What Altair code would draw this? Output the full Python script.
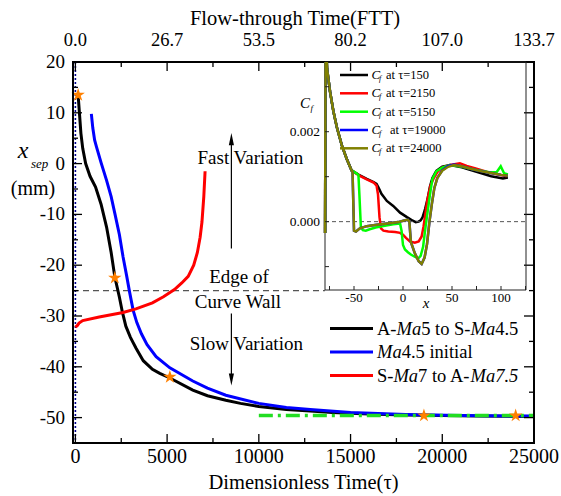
import altair as alt
import pandas as pd

FONT = "Liberation Serif"
W, H = 461, 381

# ---------------- main panel data ----------------
black_tau = [150, 220, 300, 400, 560, 800, 1100, 1400, 1700, 1950, 2150, 2400, 2560, 2750, 3000, 3300, 3700,
             4200, 4600, 5150, 6400, 7200, 8200, 9000, 10000, 11500, 12800, 14000, 16000, 18000, 20000, 22000, 25000]
black_y = [13.5, 10, 6, 3, 0, -2.5, -4.6, -8, -12.5, -17.5, -22.3, -26.3, -29.2, -32, -34.2, -36.3, -38.8,
           -40.5, -41.3, -42.2, -44.6, -45.7, -46.6, -47.2, -47.8, -48.4, -48.7, -49.0, -49.3, -49.5, -49.6, -49.7, -49.8]

blue_tau = [870, 950, 1050, 1150, 1400, 1700, 1950, 2150, 2400, 2600, 2800, 2950, 3150, 3350, 3600, 3900, 4400,
            5150, 6400, 7200, 8200, 10000, 11500, 12800, 15000, 18000, 21000, 25000]
blue_y = [9.8, 7.0, 4.6, 3.3, 0.2, -3.3, -6.5, -9.8, -14, -18.4, -22.2, -25.2, -28.9, -31.3, -33.5, -35.6, -38,
          -40.2, -42.8, -44.2, -45.6, -47.2, -48, -48.4, -49, -49.4, -49.6, -49.7]

red_tau = [0, 100, 200, 400, 1300, 2600, 3300, 4200, 4800, 5400, 5800, 6150, 6450, 6650, 6800, 6900, 7000, 7070]
red_y = [-32.2, -31.9, -31.4, -30.9, -30.2, -29.3, -28.6, -27.4, -26.2, -24.8, -23.5, -22.2, -20.0, -17.5,
         -14.5, -11.5, -6.5, -1.5]

green_tau = [10000, 25000]
green_y = [-49.6, -49.6]

star_tau = [150, 2150, 5150, 19000, 24000]
star_y = [13.5, -22.5, -42.0, -49.6, -49.6]

edge_y = [-25]

tau_major = [0, 5000, 10000, 15000, 20000, 25000]
tau_labels = ["0", "5000", "10000", "15000", "20000", "25000"]
tau_minor = [2500, 7500, 12500, 17500, 22500]
ftt_labels = ["0.0", "26.7", "53.5", "80.2", "107.0", "133.7"]
y_major = [20, 10, 0, -10, -20, -30, -40, -50]
y_labels = ["20", "10", "0", "-10", "-20", "-30", "-40", "-50"]
y_minor = [15, 5, -5, -15, -25, -35, -45]

ann_tau = [9540, 8918, 8864, 9321]
ann_y = [0.0, -23.6, -28.5, -36.75]
ann_text = ["Fast Variation", "Edge of", "Curve Wall", "Slow Variation"]
arrow_tau = [8504, 8504]
arrow_from = [-16.7, -29.5]
arrow_to = [4.8, -42.5]

# ---------------- inset data (Cf vs x) ----------------
lead_x = [-79.5, -79.0, -77.5, -74.5, -71.0, -67.5, -62.5, -57.5, -52.5]
lead_cf = [-0.00025, 0.0042, 0.0034, 0.0029, 0.00245, 0.0021, 0.0017, 0.0014, 0.00114]

cf150_x = lead_x + [-45, -37, -30, -27, -25, -22, -16.5, -10, -3, 4, 10, 13, 16, 18, 20, 22.5, 25, 27.5, 30, 34,
                    40, 48, 60, 75, 90, 102, 107]
cf150_y = lead_cf + [0.00104, 0.00095, 0.00088, 0.00084, 0.00076, 0.00062, 0.00046, 0.00035, 0.0002, 0.0001,
                     0.00002, -0.00001, 0.0, 0.00003, 0.0001, 0.00028, 0.0005, 0.00078, 0.00097, 0.00113,
                     0.00122, 0.00126, 0.00121, 0.00111, 0.00101, 0.00096, 0.00098]

cf2150_x = lead_x + [-45, -37, -30, -27, -25.5, -24, -22.5, -20, -15, -8, -3, 0, 3, 7, 12, 16, 19, 21, 23, 25,
                     28, 31, 35, 40, 48, 58, 65, 75, 90, 106]
cf2150_y = lead_cf + [0.00103, 0.00094, 0.00087, 0.0008, 0.0006, 0.0001, -0.00015, -0.0002, -0.00022, -0.00023,
                      -0.00025, -0.00029, -0.00036, -0.00044, -0.00047, -0.00044, -0.00033, -0.0001, 0.0002,
                      0.0005, 0.0008, 0.00095, 0.0011, 0.0012, 0.00126, 0.0013, 0.00124, 0.00118, 0.00108, 0.00101]

cf5150_x = lead_x + [-48, -45.5, -44.5, -43, -41, -38, -34, -28, -20, -10, -3, -1.5, 0, 2, 5, 8, 12, 15.5, 18,
                     20.5, 22.5, 25, 27.5, 30, 34, 40, 48, 60, 75, 88, 95.5, 99.7, 103, 107]
cf5150_y = lead_cf + [0.00108, 0.00104, 0.0006, -0.00012, -0.00019, -0.0002, -0.00017, -0.00013, -0.0001,
                      -0.00006, -0.00004, -0.0002, -0.00052, -0.00062, -0.00068, -0.00073, -0.00078, -0.00082,
                      -0.00076, -0.00056, -0.0002, 0.0002, 0.0006, 0.00095, 0.00112, 0.0012, 0.00126, 0.00122,
                      0.00115, 0.0011, 0.0011, 0.00123, 0.00108, 0.00105]

cf19000_x = lead_x + [-51.5, -50, -48, -44, -37, -27, -16, -5, 2, 5, 6.5, 8, 12, 16, 19, 22, 24.5, 27, 29.5, 32,
                      35, 40, 46, 52, 60, 70, 80, 90, 100, 107]
cf19000_y = lead_cf + [0.0011, -0.0002, -0.00022, -0.00015, -0.0001, -0.00007, -0.00004, -0.00001, 0.00003,
                       0.00004, 0.0, -0.00045, -0.0007, -0.00088, -0.00094, -0.0008, -0.0005, 0.0, 0.0004,
                       0.00075, 0.00097, 0.00114, 0.00124, 0.00127, 0.00123, 0.00117, 0.00112, 0.00108, 0.00104,
                       0.00102]

cf24000_x = lead_x + [-51.5, -50, -48, -44, -37, -27, -16, -5, 2, 5, 6.5, 8, 12, 16, 19, 22, 24.5, 27, 29.5, 32,
                      35, 40, 46, 52, 60, 70, 80, 90, 100, 107]
cf24000_y = lead_cf + [0.0011, -0.0002, -0.00022, -0.00015, -0.0001, -0.00007, -0.00004, -0.00001, 0.00003,
                       0.00004, 0.0, -0.00045, -0.0007, -0.00088, -0.00094, -0.0008, -0.0005, 0.0, 0.0004,
                       0.00075, 0.00097, 0.00113, 0.00122, 0.00126, 0.00123, 0.00117, 0.00112, 0.00108, 0.00104,
                       0.00102]

inset_x_domain = [-79.6, 125.5]
inset_y_domain = [-0.00152, 0.00355]
inset_x_ticks = [-75, -50, -25, 0, 25, 50, 75, 100, 125]
inset_x_labels = [-50, 0, 50, 100]
inset_x_label_text = ["-50", "0", "50", "100"]
inset_y_ticks = [-0.001, 0.0, 0.001, 0.002, 0.003]
inset_y_labels = [0.0, 0.002]
inset_y_label_text = ["0.000", "0.002"]

# ---------------- scales ----------------
xs = alt.Scale(domain=[-130, 25000], nice=False, zero=False)
ys = alt.Scale(domain=[-55, 20], nice=False, zero=False)
ixs = alt.Scale(domain=inset_x_domain, range=[252, 453], nice=False, zero=False)
iys = alt.Scale(domain=inset_y_domain, range=[228, 0], nice=False, zero=False)


def mx():
    return alt.X("tau:Q", scale=xs, axis=None)


def my():
    return alt.Y("y:Q", scale=ys, axis=None)


def ix():
    return alt.X("x:Q", scale=ixs, axis=None)


def iy():
    return alt.Y("cf:Q", scale=iys, axis=None)


def curve(t, y):
    return pd.DataFrame({"tau": t, "y": y})


black = alt.Chart(curve(black_tau, black_y)).mark_line(color="black", strokeWidth=3).encode(x=mx(), y=my())
blue = alt.Chart(curve(blue_tau, blue_y)).mark_line(color="#0000FF", strokeWidth=3).encode(x=mx(), y=my())
red = alt.Chart(curve(red_tau, red_y)).mark_line(color="#FF0000", strokeWidth=3).encode(x=mx(), y=my())
green = alt.Chart(curve(green_tau, green_y)).mark_line(color="#22DD22", strokeWidth=3.5,
                                                       strokeDash=[14, 5, 3, 5]).encode(x=mx(), y=my())

STAR = ("M0,-1L0.224,-0.309L0.951,-0.309L0.363,0.118L0.588,0.809L0,0.382L-0.588,0.809L-0.363,0.118"
        "L-0.951,-0.309L-0.224,-0.309Z")
stars = alt.Chart(curve(star_tau, star_y)).mark_point(shape=STAR, filled=True, size=200, color="#FF8000",
                                                      opacity=1).encode(x=mx(), y=my())

dashed = alt.Chart(pd.DataFrame({"y": edge_y})).mark_rule(color="#555555", strokeDash=[6, 4],
                                                          strokeWidth=1.3).encode(
    y=my(), x=alt.value(0), x2=alt.value(252))
vline = alt.Chart(pd.DataFrame({"tau": [0]})).mark_rule(color="#00008B", strokeDash=[2, 2],
                                                         strokeWidth=1.6).encode(x=mx())

frame_main = alt.Chart(pd.DataFrame({"a": [0]})).mark_rect(fill="transparent", stroke="black",
                                                            strokeWidth=2).encode(
    x=alt.value(0), x2=alt.value(W), y=alt.value(0), y2=alt.value(H))


def xticks(vals, y0, y1):
    return alt.Chart(pd.DataFrame({"tau": vals})).mark_rule(color="black", strokeWidth=1.3).encode(
        x=mx(), y=alt.value(y0), y2=alt.value(y1))


def yticks(vals, x0, x1):
    return alt.Chart(pd.DataFrame({"y": vals})).mark_rule(color="black", strokeWidth=1.3).encode(
        y=my(), x=alt.value(x0), x2=alt.value(x1))


tick_layers = [xticks(tau_major, H, H - 9), xticks(tau_minor, H, H - 5),
               xticks(tau_major, 0, 9), xticks(tau_minor, 0, 5),
               yticks(y_major, 0, 9), yticks(y_minor, 0, 5),
               yticks(y_major, W, W - 10), yticks(y_minor, W, W - 5)]

bottom_labels = alt.Chart(pd.DataFrame({"tau": tau_major, "lab": tau_labels})).mark_text(
    font=FONT, fontSize=20, baseline="alphabetic", color="black").encode(x=mx(), y=alt.value(401), text="lab:N")
left_labels = alt.Chart(pd.DataFrame({"y": y_major, "lab": y_labels})).mark_text(
    font=FONT, fontSize=19, baseline="middle", align="right", color="black").encode(
    y=my(), x=alt.value(-8), text="lab:N")
top_labels = alt.Chart(pd.DataFrame({"tau": tau_major, "lab": ftt_labels})).mark_text(
    font=FONT, fontSize=18.5, baseline="alphabetic", color="black").encode(x=mx(), y=alt.value(-16), text="lab:N")


def free_text(txt, x, y, size, align="center", style="normal", baseline="alphabetic"):
    return alt.Chart(pd.DataFrame({"t": [txt]})).mark_text(
        font=FONT, fontSize=size, fontStyle=style, align=align, baseline=baseline, color="black").encode(
        x=alt.value(x), y=alt.value(y), text="t:N")


titles = [
    free_text("Flow-through Time(FTT)", 222, -37, 20.5),
    free_text("Dimensionless Time(\u03c4)", 230.5, 427, 20.5),
    free_text("x", -50, 96, 24, style="italic"),
    free_text("sep", -42, 106, 13, align="left", style="italic"),
    free_text("(mm)", -40, 133, 20),
]

ann = alt.Chart(pd.DataFrame({"tau": ann_tau, "y": ann_y, "txt": ann_text})).mark_text(
    font=FONT, fontSize=19, baseline="alphabetic", color="black").encode(x=mx(), y=my(), text="txt:N")
arrows = alt.Chart(pd.DataFrame({"tau": arrow_tau, "y": arrow_from, "y2": arrow_to})).mark_rule(
    color="black", strokeWidth=1.2).encode(x=mx(), y=my(), y2="y2:Q")
UP = "M0,-1L0.42,1L-0.42,1Z"
DOWN = "M0,1L0.42,-1L-0.42,-1Z"
head_up = alt.Chart(curve([arrow_tau[0]], [arrow_to[0]])).mark_point(
    shape=UP, filled=True, size=150, color="black", opacity=1).encode(x=mx(), y=my())
head_down = alt.Chart(curve([arrow_tau[1]], [arrow_to[1]])).mark_point(
    shape=DOWN, filled=True, size=150, color="black", opacity=1).encode(x=mx(), y=my())

# main legend (mixed upright / italic runs)
EM_R = {"A": 0.722, "-": 0.333, "5": 0.5, " ": 0.25, "t": 0.278, "o": 0.5, "S": 0.556, "4": 0.5, ".": 0.25,
        "i": 0.278, "n": 0.5, "l": 0.278, "a": 0.444, "7": 0.5}
EM_I = {"M": 0.833, "a": 0.5, "7": 0.5, ".": 0.25, "5": 0.5}
LEG_FS = 18.5
legend_rows = [
    ("black", [("A-", False), ("Ma", True), ("5 to S-", False), ("Ma", True), ("4.5", False)]),
    ("#0000FF", [("Ma", True), ("4.5 initial", False)]),
    ("#FF0000", [("S-", False), ("Ma", True), ("7 to A-", False), ("Ma7.5", True)]),
]
legend_y = [266.5, 290, 313.5]
legend_layers = []
for (col, runs), ly in zip(legend_rows, legend_y):
    legend_layers.append(alt.Chart(pd.DataFrame({"c": [col]})).mark_rule(color=col, strokeWidth=3).encode(
        x=alt.value(257), x2=alt.value(300), y=alt.value(ly)))
    xpos = 304.0
    for txt, it in runs:
        legend_layers.append(free_text(txt, xpos, ly, LEG_FS, align="left",
                                       style="italic" if it else "normal", baseline="middle"))
        table = EM_I if it else EM_R
        xpos += sum(table.get(ch, 0.5) for ch in txt) * LEG_FS

main = alt.layer(dashed, vline, black, blue, red, green, stars, arrows, head_up, head_down, ann,
                 frame_main, *tick_layers, bottom_labels, left_labels, top_labels, *titles, *legend_layers)

# ---------------- inset ----------------
def icurve(xv, yv, col, w=2.5):
    return alt.Chart(pd.DataFrame({"x": xv, "cf": yv})).mark_line(color=col, strokeWidth=w, clip=True).encode(
        x=ix(), y=iy())


frame = alt.Chart(pd.DataFrame({"a": [0]})).mark_rect(fill="transparent", stroke="#222222", strokeWidth=1).encode(
    x=alt.XDatum(inset_x_domain[0], scale=ixs, axis=None), x2=alt.X2Datum(inset_x_domain[1]),
    y=alt.YDatum(inset_y_domain[0], scale=iys, axis=None), y2=alt.Y2Datum(inset_y_domain[1]))
zero = alt.Chart(pd.DataFrame({"cf": [0.0]})).mark_rule(color="#555555", strokeDash=[4, 3], strokeWidth=1).encode(
    y=iy(), x=alt.value(252), x2=alt.value(453))
ixt = alt.Chart(pd.DataFrame({"x": inset_x_ticks})).mark_rule(color="#222222", strokeWidth=1).encode(
    x=ix(), y=alt.value(228), y2=alt.value(224))
iyt = alt.Chart(pd.DataFrame({"cf": inset_y_ticks})).mark_rule(color="#222222", strokeWidth=1).encode(
    y=iy(), x=alt.value(252), x2=alt.value(256))
ixl = alt.Chart(pd.DataFrame({"x": inset_x_labels, "t": inset_x_label_text})).mark_text(
    font=FONT, fontSize=13, baseline="middle", color="black").encode(x=ix(), y=alt.value(236), text="t:N")
iyl = alt.Chart(pd.DataFrame({"cf": inset_y_labels, "t": inset_y_label_text})).mark_text(
    font=FONT, fontSize=13.5, baseline="middle", align="right", color="black").encode(
    y=iy(), x=alt.value(247), text="t:N")

inset_titles = [
    free_text("C", 232, 41, 15, style="italic", baseline="middle"),
    free_text("f", 237.5, 46, 9, align="left", style="italic", baseline="middle"),
    free_text("x", 353, 241, 15, style="italic", baseline="middle"),
]

ileg_colors = ["black", "#FF0000", "#00FF00", "#0000FF", "#808000"]
ileg_text = ["at \u03c4=150", "at \u03c4=2150", "at \u03c4=5150", "at \u03c4=19000", "at \u03c4=24000"]
ileg_gap = [0, 0, 0, 4, 0]
ileg_y = [13, 31.3, 49.7, 68, 86.3]
ileg_layers = []
for col, txt, gap, ly in zip(ileg_colors, ileg_text, ileg_gap, ileg_y):
    ileg_layers.append(alt.Chart(pd.DataFrame({"c": [col]})).mark_rule(color=col, strokeWidth=2.5).encode(
        x=alt.value(267), x2=alt.value(295), y=alt.value(ly)))
    ileg_layers.append(free_text("C", 298.5, ly, 13, align="left", style="italic", baseline="middle"))
    ileg_layers.append(free_text("f", 306, ly + 3.5, 8, align="left", style="italic", baseline="middle"))
    ileg_layers.append(free_text(txt, 313 + gap, ly, 12.5, align="left", baseline="middle"))

inset = alt.layer(
    icurve(cf150_x, cf150_y, "black"),
    frame, zero,
    icurve(cf2150_x, cf2150_y, "#FF0000"),
    icurve(cf5150_x, cf5150_y, "#00FF00"),
    icurve(cf19000_x, cf19000_y, "#0000FF"),
    icurve(cf24000_x, cf24000_y, "#808000"),
    ixt, iyt, ixl, iyl, *inset_titles, *ileg_layers,
)

chart = alt.layer(main, inset).resolve_scale(x="independent", y="independent").properties(
    width=W, height=H,
    autosize=alt.AutoSizeParams(type="none"),
    padding={"left": 73, "top": 62, "right": 27, "bottom": 53},
    background="white",
).configure_view(stroke="black", strokeWidth=2)

chart.save("out.html", embed_options={"renderer": "svg", "actions": False})
